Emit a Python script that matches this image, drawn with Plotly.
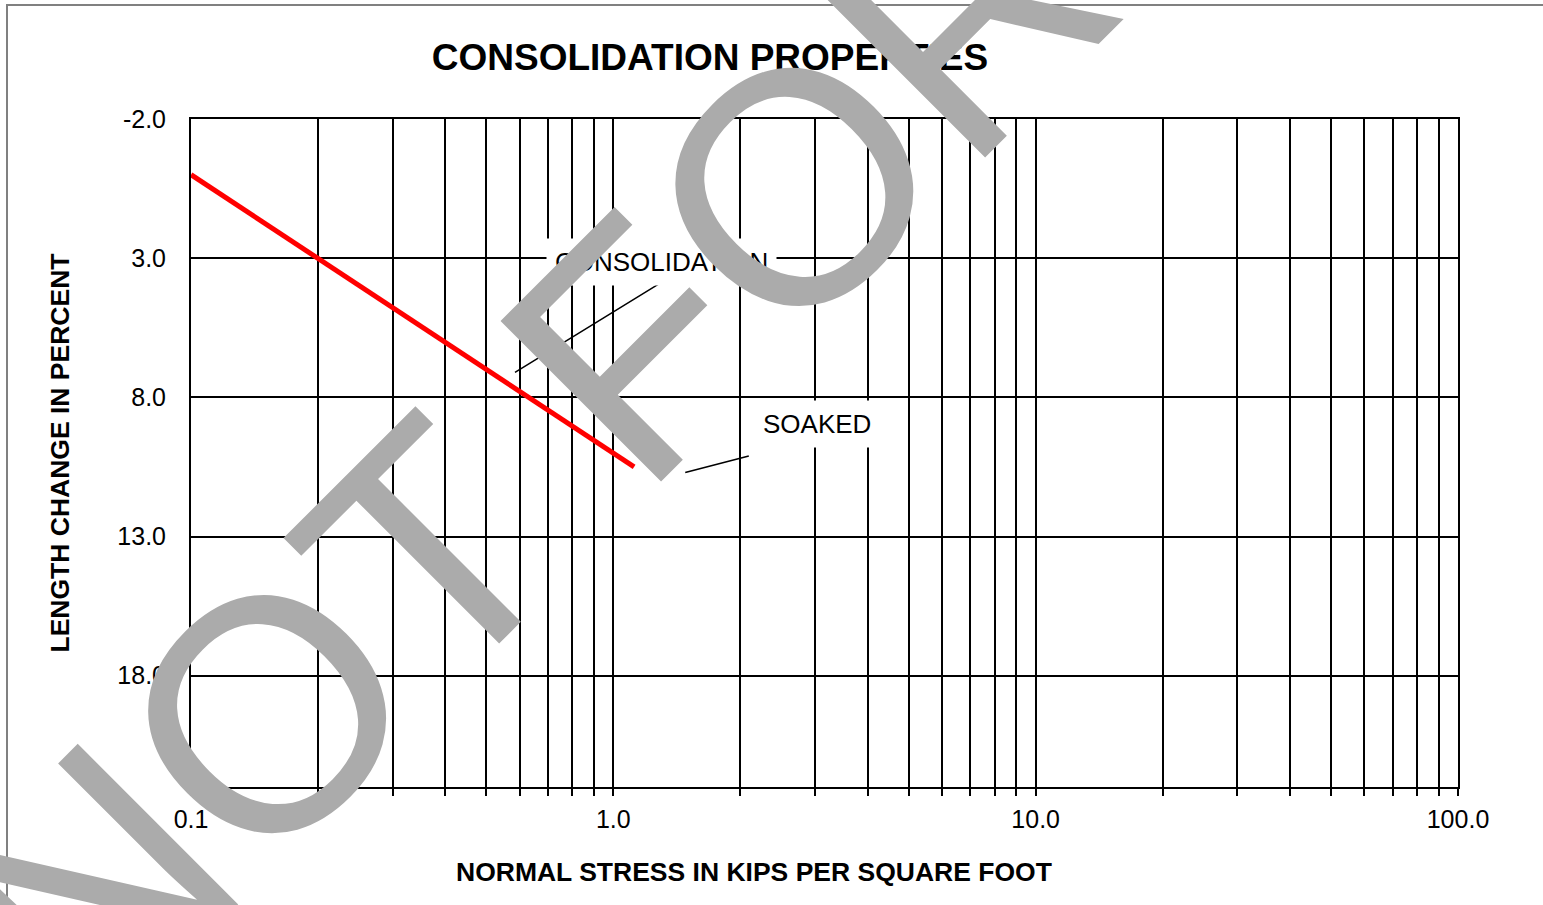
import numpy as np
import plotly.graph_objects as go

# ---- data ----
stress_ksf = [0.1, 0.2, 0.5, 1.0, 1.12]
length_change_pct = [0.0, 3.0, 7.0, 10.0, 10.5]

x_tick_vals = [0.1, 0.2, 0.3, 0.4, 0.5, 0.6, 0.7, 0.8, 0.9,
               1, 2, 3, 4, 5, 6, 7, 8, 9,
               10, 20, 30, 40, 50, 60, 70, 80, 90, 100]
x_tick_labels = {0.1: "0.1", 1: "1.0", 10: "10.0", 100: "100.0"}
y_tick_vals = [-2, 3, 8, 13, 18]
y_tick_text = ["-2.0", "3.0", "8.0", "13.0", "18.0"]
y_range = [22, -2]

title_text = "CONSOLIDATION PROPERTIES"
x_title = "NORMAL STRESS IN KIPS PER SQUARE FOOT"
y_title = "LENGTH CHANGE IN PERCENT"

# callout labels (data units): (label, text x, text y, leader start x, y, leader end x, y)
labels = [
    ("CONSOLIDATION", 1.30, 3.14, 1.29, 3.90, 0.585, 7.1),
    ("SOAKED", 3.03, 8.94, 2.11, 10.09, 1.48, 10.7),
]
watermark = "NOT FOR"

FONT = "Liberation Sans, Arial, sans-serif"

L, T, PW, PH = 191, 119, 1267, 668
W, H = 1543, 905

fig = go.Figure()
fig.add_trace(go.Scatter(
    x=stress_ksf, y=length_change_pct, mode="lines",
    line=dict(color="#FF0000", width=5), showlegend=False, hoverinfo="skip"))

fig.update_layout(
    width=W, height=H,
    margin=dict(l=L, r=W - L - PW, t=T, b=H - T - PH, autoexpand=False),
    paper_bgcolor="white", plot_bgcolor="white",
    font=dict(family=FONT, color="black"),
    title=dict(text="<b>%s</b>" % title_text, x=710 / W, xref="container",
               xanchor="center", y=1 - 57 / H, yref="container", yanchor="middle",
               font=dict(size=37, family=FONT, color="black")),
    showlegend=False,
)

fig.update_xaxes(
    type="log", range=[-1, 2],
    tickmode="array", tickvals=x_tick_vals,
    ticktext=[x_tick_labels.get(v, "") for v in x_tick_vals],
    ticks="outside", ticklen=7, tickwidth=2, tickcolor="black",
    showgrid=True, gridcolor="black", gridwidth=2,
    showline=True, linecolor="black", linewidth=2, mirror=True,
    zeroline=False, ticklabelstandoff=2,
    tickfont=dict(size=25, family=FONT, color="black"),
)
fig.update_yaxes(
    range=y_range, tickmode="array", tickvals=y_tick_vals, ticktext=y_tick_text,
    ticks="", showgrid=True, gridcolor="black", gridwidth=2,
    showline=True, linecolor="black", linewidth=2, mirror=True,
    zeroline=False, ticklabelstandoff=18,
    tickfont=dict(size=25, family=FONT, color="black"),
    title=dict(text="<b>%s</b>" % y_title, standoff=40,
               font=dict(size=26.5, family=FONT, color="black")),
)

# x-axis title (offset left of plot centre as in the reference)
fig.add_annotation(
    text="<b>%s</b>" % x_title, xref="paper", yref="paper",
    x=(754 - L) / PW, y=(T + PH - 872) / PH, xanchor="center", yanchor="middle",
    showarrow=False, font=dict(size=26.5, family=FONT, color="black"))

for text, tx, ty, sx, sy, ex, ey in labels:
    # leader line
    fig.add_annotation(
        x=np.log10(ex), y=ey, xref="x", yref="y",
        ax=np.log10(sx), ay=sy, axref="x", ayref="y",
        text="", showarrow=True, arrowhead=0, arrowwidth=1.5, arrowcolor="black")
    # label with white box
    fig.add_annotation(
        x=np.log10(tx), y=ty, xref="x", yref="y", showarrow=False,
        text=text, bgcolor="white", borderpad=8,
        font=dict(size=26, family=FONT, color="black"))

# outer frame
fig.add_shape(type="rect", xref="paper", yref="paper",
              x0=(7 - L) / PW, x1=(1570 - L) / PW,
              y0=(T + PH - 930) / PH, y1=(T + PH - 5) / PH,
              line=dict(color="#808080", width=2), fillcolor="rgba(0,0,0,0)")

# watermark
fig.add_annotation(
    text=watermark, xref="paper", yref="paper",
    x=(530 - L) / PW, y=(T + PH - 450) / PH,
    xanchor="center", yanchor="middle", showarrow=False, textangle=-45,
    font=dict(size=330, family=FONT, color="#ABABAB"))

fig.write_html("out.html", config={"displayModeBar": False},
               post_script="document.body.style.margin='0';")
